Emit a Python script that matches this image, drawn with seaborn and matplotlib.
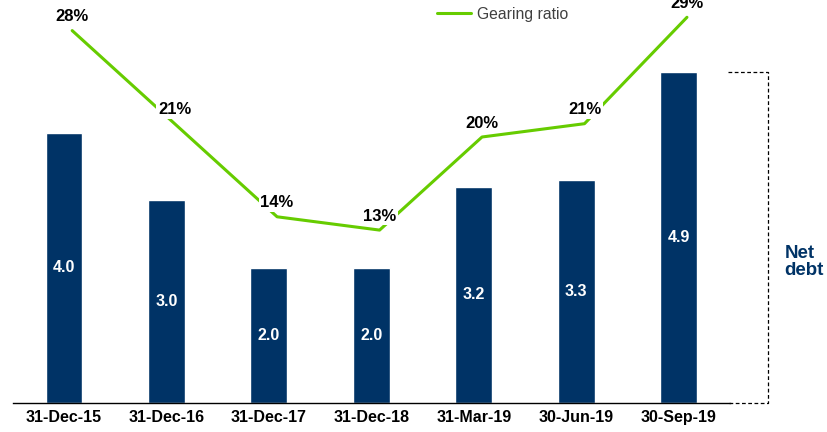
import numpy as np
import pandas as pd
import matplotlib
matplotlib.use("Agg")
import matplotlib.pyplot as plt
import seaborn as sns

# Data
periods = ["31-Dec-15", "31-Dec-16", "31-Dec-17", "31-Dec-18", "31-Mar-19", "30-Jun-19", "30-Sep-19"]
net_debt = [4.0, 3.0, 2.0, 2.0, 3.2, 3.3, 4.9]
gearing = [28, 21, 14, 13, 20, 21, 29]

navy = "#003366"
green = "#66CC00"

sns.set_theme(style="white")
plt.rcParams["font.family"] = ["Liberation Sans", "DejaVu Sans"]

df = pd.DataFrame({"period": periods, "net_debt": net_debt, "gearing": gearing})

fig = plt.figure(figsize=(8.27, 4.32), dpi=100)
ax = fig.add_axes([12.75 / 827, 29 / 432, (730 - 12.75) / 827, 403 / 432])

sns.barplot(data=df, x="period", y="net_debt", color=navy, width=0.36,
            saturation=1, ax=ax)
ax.set_xlim(-0.5, 6.5)
ax.set_ylim(0, 5.97)
ax.set_xlabel("")
ax.set_ylabel("")
ax.set_yticks([])
for s in ["top", "right", "left"]:
    ax.spines[s].set_visible(False)
ax.spines["bottom"].set_color("black")
ax.spines["bottom"].set_linewidth(1)
ax.tick_params(axis="x", length=0, pad=5)
for lab in ax.get_xticklabels():
    lab.set_fontweight("bold")
    lab.set_fontsize(11.5)
    lab.set_color("black")

# values inside the bars
for i, v in enumerate(net_debt):
    ax.text(i, v / 2, f"{v:.1f}", ha="center", va="center", color="white",
            fontsize=11.5, fontweight="bold")

# gearing ratio on a second scale
ax2 = ax.twinx()
xpos = np.arange(len(gearing)) + 0.08
sns.lineplot(x=xpos, y=gearing, ax=ax2, color=green, linewidth=2.2,
             label="Gearing ratio", legend=False)
ax2.set_ylim(0, 30.3)
ax2.set_yticks([])
ax2.set_ylabel("")
for s in ax2.spines.values():
    s.set_visible(False)
for x, g in zip(xpos, gearing):
    ax2.annotate(f"{g}%", (x, g), xytext=(0, 10), textcoords="offset points",
                 ha="center", va="center", fontsize=12, fontweight="bold",
                 color="black", annotation_clip=False,
                 bbox=dict(boxstyle="square,pad=0.1", fc="white", ec="none"))

# dashed bracket and label
top = net_debt[-1]
ax.plot([6.48, 6.87, 6.87, 6.48], [top, top, 0, 0], color="black",
        linestyle=(0, (3, 2)), linewidth=0.9, clip_on=False)
ax.text(7.03, 2.09, "Net\ndebt", ha="left", va="center", color=navy,
        fontsize=13.5, fontweight="bold", linespacing=1.05, clip_on=False)

handles, labels = ax2.get_legend_handles_labels()
leg = fig.legend(handles, labels, loc="center left",
                 bbox_to_anchor=(437 / 827, 1 - 14 / 432), frameon=False,
                 fontsize=11.3, handlelength=2.17, handletextpad=0.4,
                 borderpad=0, borderaxespad=0)
for t in leg.get_texts():
    t.set_color("#404040")

fig.savefig("out.png", dpi=100)
